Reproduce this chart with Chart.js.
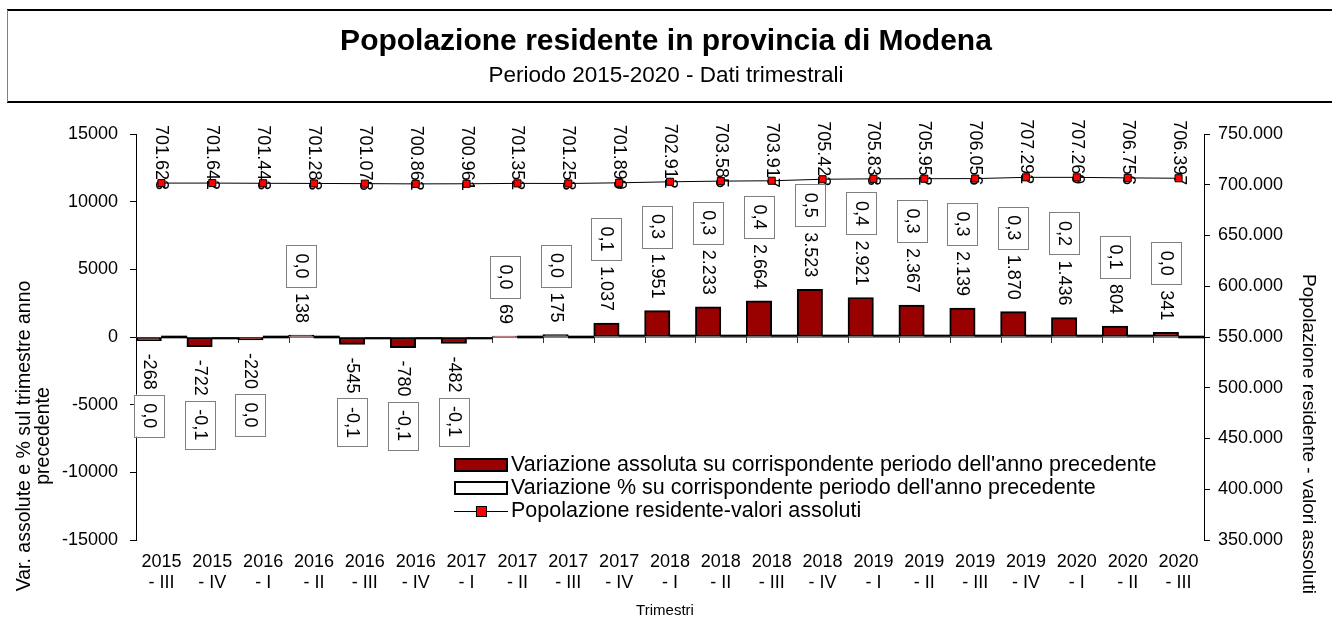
<!DOCTYPE html>
<html>
<head>
<meta charset="utf-8">
<title>Popolazione residente in provincia di Modena</title>
<script src="https://cdn.jsdelivr.net/npm/chart.js@4.4.0/dist/chart.umd.min.js"></script>
<style>
    body { margin: 0; background: #fff; }
    #wrap { width: 1332px; height: 621px; position: relative; }
</style>
</head>
<body>
<div id="wrap"><canvas id="grafico"></canvas></div>
<script>
// dati trimestrali
const trimestri = [
    ['2015', '- III'], ['2015', '- IV'], ['2016', '- I'], ['2016', '- II'], ['2016', '- III'], ['2016', '- IV'],
    ['2017', '- I'], ['2017', '- II'], ['2017', '- III'], ['2017', '- IV'], ['2018', '- I'], ['2018', '- II'],
    ['2018', '- III'], ['2018', '- IV'], ['2019', '- I'], ['2019', '- II'], ['2019', '- III'], ['2019', '- IV'],
    ['2020', '- I'], ['2020', '- II'], ['2020', '- III']
]
const variazioneAssoluta = [-268, -722, -220, 138, -545, -780, -482, 69, 175, 1037, 1951, 2233, 2664, 3523, 2921, 2367, 2139, 1870, 1436, 804, 341]
const variazionePerc = [0.0, -0.1, 0.0, 0.0, -0.1, -0.1, -0.1, 0.0, 0.0, 0.1, 0.3, 0.3, 0.4, 0.5, 0.4, 0.3, 0.3, 0.3, 0.2, 0.1, 0.0]
const popolazione = [701623, 701642, 701443, 701283, 701078, 700862, 700961, 701352, 701253, 701899, 702912, 703585, 703917, 705422, 705833, 705952, 706056, 707292, 707269, 706756, 706397]
const tickSinistra = [-15000, -10000, -5000, 0, 5000, 10000, 15000]
const tickDestra = [350000, 400000, 450000, 500000, 550000, 600000, 650000, 700000, 750000]

const FONT = '"Liberation Sans", Arial, sans-serif'

function punti(n) {
    return String(n).replace(/\B(?=(\d{3})+(?!\d))/g, '.')
}
function virgola(n) {
    return n.toFixed(1).replace('.', ',')
}

// testo ruotato di 90 gradi (si legge dall'alto in basso)
function testoGiu(ctx, txt, x, y, align) {
    ctx.save()
    ctx.translate(x, y)
    ctx.rotate(Math.PI / 2)
    ctx.textAlign = align
    ctx.textBaseline = 'middle'
    ctx.fillText(txt, 0, 0)
    ctx.restore()
}

const disegni = {
    id: 'disegni',
    beforeDatasetsDraw(chart) {
        const ctx = chart.ctx
        const area = chart.chartArea
        const y0 = chart.scales.y.getPixelForValue(0)
        // linea dello zero
        ctx.save()
        ctx.strokeStyle = '#808080'
        ctx.lineWidth = 1
        ctx.beginPath()
        ctx.moveTo(area.left, y0 + 0.5)
        ctx.lineTo(area.right, y0 + 0.5)
        ctx.stroke()
        // tacche tra i trimestri
        const passo = (area.right - area.left) / trimestri.length
        ctx.strokeStyle = '#333'
        for (let i = 1; i < trimestri.length; i++) {
            const x = Math.round(area.left + i * passo) + 0.5
            ctx.beginPath()
            ctx.moveTo(x, y0)
            ctx.lineTo(x, y0 + 6)
            ctx.stroke()
        }
        // etichette popolazione (sotto i marcatori)
        ctx.fillStyle = '#000'
        ctx.font = '18px ' + FONT
        chart.getDatasetMeta(2).data.forEach(function (pt, i) {
            testoGiu(ctx, punti(popolazione[i]), pt.x, pt.y + 7, 'right')
        })
        ctx.restore()
    },
    afterDatasetsDraw(chart) {
        const ctx = chart.ctx
        ctx.save()
        ctx.font = '18px ' + FONT
        ctx.fillStyle = '#000'
        chart.getDatasetMeta(0).data.forEach(function (bar, i) {
            const v = variazioneAssoluta[i]
            const txt = punti(v)
            const w = ctx.measureText(txt).width
            const p = virgola(variazionePerc[i])
            const pw = ctx.measureText(p).width
            const bh = pw + 17
            const bw = 30
            let boxTop
            if (v >= 0) {
                const fine = bar.y - 12
                testoGiu(ctx, txt, bar.x, fine, 'right')
                boxTop = fine - w - 6 - bh
            } else {
                const inizio = bar.y + 13
                testoGiu(ctx, txt, bar.x, inizio, 'left')
                boxTop = inizio + w + 5
            }
            ctx.fillStyle = '#fff'
            ctx.fillRect(bar.x - bw / 2, boxTop, bw, bh)
            ctx.strokeStyle = '#808080'
            ctx.lineWidth = 1
            ctx.strokeRect(Math.round(bar.x - bw / 2) + 0.5, Math.round(boxTop) + 0.5, bw, Math.round(bh))
            ctx.fillStyle = '#000'
            testoGiu(ctx, p, bar.x, boxTop + bh / 2, 'center')
        })
        ctx.restore()
    },
    afterDraw(chart) {
        const ctx = chart.ctx
        ctx.save()
        // riquadro del titolo
        ctx.strokeStyle = '#000'
        ctx.lineWidth = 2
        ctx.beginPath()
        ctx.moveTo(7, 10); ctx.lineTo(1332, 10)
        ctx.moveTo(7, 102); ctx.lineTo(1332, 102)
        ctx.stroke()
        ctx.strokeStyle = '#808080'
        ctx.lineWidth = 1
        ctx.beginPath()
        ctx.moveTo(7.5, 10); ctx.lineTo(7.5, 102)
        ctx.stroke()

        ctx.fillStyle = '#000'
        ctx.textAlign = 'center'
        ctx.textBaseline = 'middle'
        ctx.font = 'bold 30px ' + FONT
        ctx.fillText('Popolazione residente in provincia di Modena', 666, 42)
        ctx.font = '22.5px ' + FONT
        ctx.fillText('Periodo 2015-2020 - Dati trimestrali', 666, 76)

        ctx.font = '15px ' + FONT
        ctx.fillText('Trimestri', 665, 611)

        // titoli degli assi
        ctx.font = '19.5px ' + FONT
        ctx.save()
        ctx.translate(25, 436)
        ctx.rotate(-Math.PI / 2)
        ctx.fillText('Var. assolute e % sul trimestre anno', 0, 0)
        ctx.fillText('precedente', 0, 19)
        ctx.restore()
        ctx.font = '19px ' + FONT
        testoGiu(ctx, 'Popolazione residente - valori assoluti', 1308, 434, 'center')

        // legenda
        const lx = 454, tx = 511
        const righe = [465, 488, 511]
        ctx.fillStyle = '#990000'
        ctx.fillRect(lx, righe[0] - 7, 54, 14)
        ctx.strokeStyle = '#000'
        ctx.lineWidth = 2
        ctx.strokeRect(lx + 1, righe[0] - 6, 52, 12)
        ctx.fillStyle = '#fff'
        ctx.fillRect(lx, righe[1] - 7, 54, 14)
        ctx.strokeRect(lx + 1, righe[1] - 6, 52, 12)
        ctx.lineWidth = 1
        ctx.beginPath()
        ctx.moveTo(lx, righe[2] + 0.5); ctx.lineTo(lx + 54, righe[2] + 0.5)
        ctx.stroke()
        ctx.fillStyle = '#ff0000'
        ctx.fillRect(lx + 22, righe[2] - 5, 10, 10)
        ctx.strokeRect(lx + 22.5, righe[2] - 4.5, 10, 10)

        ctx.fillStyle = '#000'
        ctx.textAlign = 'left'
        ctx.font = '21.5px ' + FONT
        ctx.fillText("Variazione assoluta su corrispondente periodo dell'anno precedente", tx, righe[0])
        ctx.fillText("Variazione % su corrispondente periodo dell'anno precedente", tx, righe[1])
        ctx.fillText('Popolazione residente-valori assoluti', tx, righe[2])
        ctx.restore()
    }
}

new Chart(document.getElementById('grafico'), {
    type: 'bar',
    data: {
        labels: trimestri,
        datasets: [{
            label: 'Variazione assoluta su corrispondente periodo dell\'anno precedente',
            data: variazioneAssoluta,
            yAxisID: 'y',
            backgroundColor: '#990000',
            borderColor: '#000',
            borderWidth: 2,
            borderSkipped: false,
            categoryPercentage: 1,
            barPercentage: 1
        }, {
            label: 'Variazione % su corrispondente periodo dell\'anno precedente',
            data: variazionePerc,
            yAxisID: 'y',
            backgroundColor: '#000',
            borderWidth: 0,
            minBarLength: 2,
            categoryPercentage: 1,
            barPercentage: 1
        }, {
            type: 'line',
            label: 'Popolazione residente-valori assoluti',
            data: popolazione,
            yAxisID: 'y1',
            borderColor: '#000',
            borderWidth: 1,
            tension: 0,
            pointStyle: 'rect',
            pointRadius: 5,
            pointBackgroundColor: '#ff0000',
            pointBorderColor: '#000',
            pointBorderWidth: 1
        }]
    },
    options: {
        responsive: true,
        maintainAspectRatio: false,
        animation: false,
        layout: { padding: { top: 134, left: 0, right: 0, bottom: 0 } },
        plugins: {
            legend: { display: false },
            tooltip: { enabled: false },
            title: { display: false }
        },
        scales: {
            x: {
                grid: { display: false },
                border: { display: false },
                ticks: {
                    color: '#000',
                    font: { family: FONT, size: 18 },
                    maxRotation: 0,
                    autoSkip: false,
                    padding: 3
                },
                afterFit: function (s) { s.height = 81 }
            },
            y: {
                position: 'left',
                min: tickSinistra[0],
                max: tickSinistra[tickSinistra.length - 1],
                ticks: {
                    stepSize: tickSinistra[1] - tickSinistra[0],
                    color: '#000',
                    font: { family: FONT, size: 18 },
                    padding: 12,
                    callback: function (v) { return String(v) }
                },
                grid: { drawOnChartArea: false, color: '#000', tickLength: 6 },
                border: { color: '#000', width: 1 },
                afterFit: function (s) { s.width = 136 }
            },
            y1: {
                position: 'right',
                min: tickDestra[0],
                max: tickDestra[tickDestra.length - 1],
                ticks: {
                    stepSize: tickDestra[1] - tickDestra[0],
                    color: '#000',
                    font: { family: FONT, size: 18 },
                    padding: 8,
                    callback: function (v) { return punti(v) }
                },
                grid: { drawOnChartArea: false, color: '#000', tickLength: 6 },
                border: { color: '#000', width: 1 },
                afterFit: function (s) { s.width = 128 }
            }
        }
    },
    plugins: [disegni]
})
</script>
</body>
</html>
